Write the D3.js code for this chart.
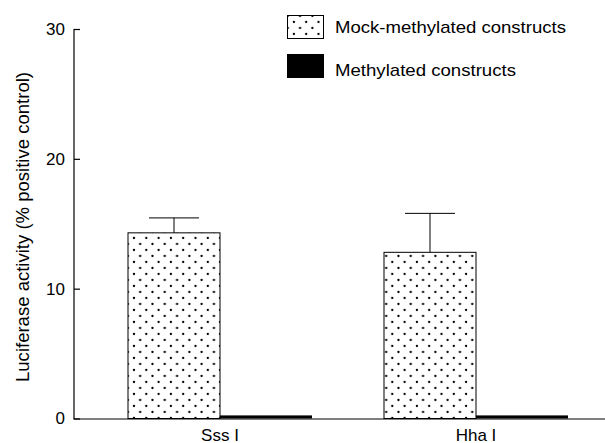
<!DOCTYPE html>
<html>
<head>
<meta charset="utf-8">
<script src="https://cdn.jsdelivr.net/npm/d3@7"></script>
<style>
  html, body { margin: 0; padding: 0; background: #fff; }
  svg text { font-family: "Liberation Sans", Arial, sans-serif; fill: #000; }
</style>
</head>
<body>
<svg id="chart" width="605" height="443"></svg>
<script>
const groups = ["Sss I", "Hha I"];
const seriesNames = ["Mock-methylated constructs", "Methylated constructs"];
const mockValues = [14.3, 12.8];
const mockErrors = [1.15, 3.0];
const methValues = [0.2, 0.2];
const yTicks = [0, 10, 20, 30];
const yTitle = "Luciferase activity (% positive control)";

const svg = d3.select("#chart");

const defs = svg.append("defs");
const pat = defs.append("pattern")
  .attr("id", "dots")
  .attr("patternUnits", "userSpaceOnUse")
  .attr("x", 134).attr("y", 238)
  .attr("width", 12.3).attr("height", 12);
pat.append("rect").attr("width", 12.3).attr("height", 12).attr("fill", "#fff");
[[0,0],[12.3,0],[0,12],[12.3,12],[6.15,6]].forEach(p =>
  pat.append("circle").attr("cx", p[0]).attr("cy", p[1]).attr("r", 1.15).attr("fill", "#000"));

const y = d3.scaleLinear().domain([0, 30]).range([418.5, 29]);
const x0 = d3.scaleBand().domain(groups).range([92, 604])
  .paddingInner(0.28125).paddingOuter(0.140625);
const x1 = d3.scaleBand().domain(seriesNames).range([0, x0.bandwidth()]);

const axisX = 74;
const fontFam = "Liberation Sans, Arial, sans-serif";

// y axis
const yAxis = d3.axisLeft(y).tickValues(yTicks).tickSize(-6).tickPadding(9).tickFormat(d3.format("d"));
const gy = svg.append("g").attr("transform", `translate(${axisX},0)`).call(yAxis);
gy.select(".domain").remove();
gy.selectAll(".tick line").attr("stroke", "#000").attr("stroke-width", 1.2);
gy.selectAll(".tick text").attr("font-size", 17).attr("fill", "#000")
  .attr("font-family", fontFam);
gy.append("line").attr("x1", 0).attr("x2", 0).attr("y1", y(30)).attr("y2", 419)
  .attr("stroke", "#000").attr("stroke-width", 1.2);

// bars
const g = svg.append("g");
groups.forEach((grp, i) => {
  const gx = x0(grp);
  const bw = x1.bandwidth();
  const mx = gx + x1(seriesNames[0]);
  g.append("rect")
    .attr("x", mx).attr("y", y(mockValues[i]))
    .attr("width", bw).attr("height", y(0) - y(mockValues[i]))
    .attr("fill", "url(#dots)").attr("stroke", "#000").attr("stroke-width", 1);
  const cx = mx + bw / 2;
  g.append("line").attr("x1", cx).attr("x2", cx)
    .attr("y1", y(mockValues[i])).attr("y2", y(mockValues[i] + mockErrors[i]))
    .attr("stroke", "#000").attr("stroke-width", 1);
  g.append("line").attr("x1", cx - 25).attr("x2", cx + 25)
    .attr("y1", y(mockValues[i] + mockErrors[i])).attr("y2", y(mockValues[i] + mockErrors[i]))
    .attr("stroke", "#000").attr("stroke-width", 1);
  const hx = gx + x1(seriesNames[1]);
  g.append("rect")
    .attr("x", hx).attr("y", y(methValues[i]) - 0.5)
    .attr("width", bw).attr("height", y(0) - y(methValues[i]) + 0.5)
    .attr("fill", "#000");
});

// x axis
svg.append("line").attr("x1", axisX - 0.6).attr("x2", 605)
  .attr("y1", 419).attr("y2", 419).attr("stroke", "#000").attr("stroke-width", 1.2);
const xAxis = d3.axisBottom(x0).tickSize(0).tickPadding(0);
const gx = svg.append("g").attr("transform", "translate(0,419)").call(xAxis);
gx.select(".domain").remove();
gx.selectAll(".tick text").attr("font-size", 17).attr("fill", "#000")
  .attr("dy", null).attr("y", 21.5)
  .attr("font-family", fontFam);

// y title
svg.append("text")
  .attr("transform", `translate(28.5,227) rotate(-90)`)
  .attr("text-anchor", "middle")
  .attr("font-size", 18.5)
  .attr("textLength", 310).attr("lengthAdjust", "spacingAndGlyphs")
  .text(yTitle);

// legend
const legend = svg.append("g");
legend.append("rect").attr("x", 287.5).attr("y", 15.5).attr("width", 36).attr("height", 23)
  .attr("fill", "url(#dots)").attr("stroke", "#000").attr("stroke-width", 1);
legend.append("rect").attr("x", 287).attr("y", 54).attr("width", 37).attr("height", 24)
  .attr("fill", "#000");
legend.append("text").attr("x", 335).attr("y", 33).attr("font-size", 17)
  .attr("textLength", 231).attr("lengthAdjust", "spacingAndGlyphs").text(seriesNames[0]);
legend.append("text").attr("x", 335).attr("y", 76).attr("font-size", 17)
  .attr("textLength", 181).attr("lengthAdjust", "spacingAndGlyphs").text(seriesNames[1]);
</script>
</body>
</html>
